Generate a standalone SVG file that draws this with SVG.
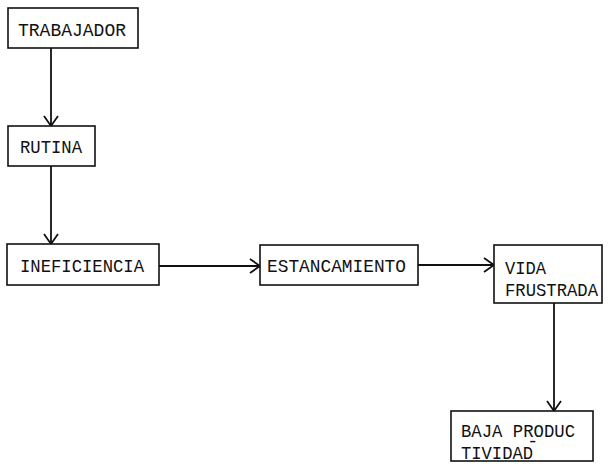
<svg xmlns="http://www.w3.org/2000/svg" width="611" height="467" viewBox="0 0 611 467">
<defs>
<marker id="arr" markerWidth="16" markerHeight="16" viewBox="0 0 16 16" refX="14" refY="8" orient="auto" markerUnits="userSpaceOnUse">
<path d="M4,1 L14,8 L4,15" fill="none" stroke="#111" stroke-width="1.8"/>
</marker>
<style>
.box{fill:#fff;stroke:#111;stroke-width:1.6}
.t{font-family:"Liberation Mono","DejaVu Sans Mono",monospace;font-size:19px;fill:#111}
.c{fill:none;stroke:#111;stroke-width:1.8}
</style>
</defs>
<rect width="611" height="467" fill="#fff"/>
<g id="connectors">
<line class="c" x1="51" y1="48" x2="51" y2="126" marker-end="url(#arr)"/>
<line class="c" x1="51" y1="166" x2="51" y2="244" marker-end="url(#arr)"/>
<line class="c" x1="159" y1="266" x2="260" y2="266" marker-end="url(#arr)"/>
<line class="c" x1="418" y1="265" x2="494" y2="265" marker-end="url(#arr)"/>
<line class="c" x1="554" y1="303" x2="554" y2="411" marker-end="url(#arr)"/>
</g>
<g id="trabajador">
<rect class="box" x="8" y="8" width="130" height="40"/>
<text class="t" x="18" y="36" textLength="108" lengthAdjust="spacingAndGlyphs">TRABAJADOR</text>
</g>
<g id="rutina">
<rect class="box" x="8" y="126" width="87" height="40"/>
<text class="t" x="20" y="153" textLength="62" lengthAdjust="spacingAndGlyphs">RUTINA</text>
</g>
<g id="ineficiencia">
<rect class="box" x="7" y="244" width="152" height="41"/>
<text class="t" x="20" y="272" textLength="124" lengthAdjust="spacingAndGlyphs">INEFICIENCIA</text>
</g>
<g id="estancamiento">
<rect class="box" x="260" y="245" width="158" height="40"/>
<text class="t" x="267" y="272" textLength="139" lengthAdjust="spacingAndGlyphs">ESTANCAMIENTO</text>
</g>
<g id="vida">
<rect class="box" x="494" y="245" width="108" height="58"/>
<text class="t" x="505" y="274" textLength="41" lengthAdjust="spacingAndGlyphs">VIDA</text>
<text class="t" x="505" y="296" textLength="93" lengthAdjust="spacingAndGlyphs">FRUSTRADA</text>
</g>
<g id="baja">
<rect class="box" x="451" y="411" width="142" height="50"/>
<text class="t"><tspan x="461" y="437" textLength="114" lengthAdjust="spacingAndGlyphs">BAJA PRODUC</tspan><tspan x="527" y="447">-</tspan><tspan x="461" y="459" textLength="72" lengthAdjust="spacingAndGlyphs">TIVIDAD</tspan></text>
</g>
</svg>
